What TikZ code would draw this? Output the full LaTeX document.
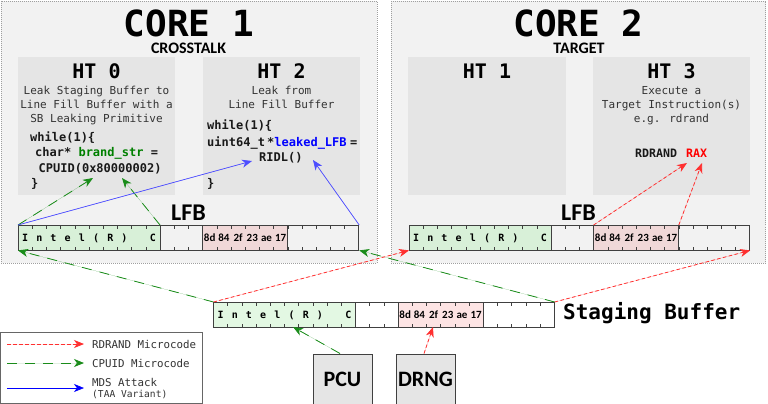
\documentclass[tikz,border=0pt]{standalone}
\usepackage{fontspec}
\newfontfamily\monof{DejaVu Sans Mono}
\newfontfamily\calfont{Carlito}
\usetikzlibrary{arrows.meta}
\definecolor{panelbg}{HTML}{F2F2F2}
\definecolor{htbg}{HTML}{E5E5E5}
\definecolor{gfill}{HTML}{D8F0D8}
\definecolor{pfill}{HTML}{F0D8D8}
\definecolor{gfills}{HTML}{E3F8E3}
\definecolor{pfills}{HTML}{FDE4E4}
\definecolor{rline}{HTML}{FF3030}
\definecolor{gline}{HTML}{1A8C1A}
\definecolor{bline}{HTML}{4D4DFF}
\definecolor{codegreen}{HTML}{008000}
\definecolor{codeblue}{HTML}{0000FF}
\definecolor{edgec}{HTML}{404040}
\definecolor{txt}{HTML}{333333}
\tikzset{
  redarrow/.style={draw=rline, fill=rline, line width=0.8pt, dash pattern=on 3.5pt off 2.5pt, -{Stealth[length=10pt,width=8pt,inset=3pt]}},
  greenarrow/.style={draw=gline, fill=gline, line width=0.8pt, dash pattern=on 10pt off 8pt, -{Stealth[length=10pt,width=8pt,inset=3pt]}},
  bluearrow/.style={draw=bline, fill=bline, line width=0.7pt, -{Stealth[length=10pt,width=8pt,inset=3pt]}},
  panel/.style={draw=gray!75, dash pattern=on 1pt off 1pt, fill=panelbg, line width=0.6pt},
  htbox/.style={fill=htbg},
  bigtitle/.style={inner sep=0, font=\monof\bfseries\fontsize{36}{36}\selectfont},
  subtitle/.style={inner sep=0, font=\calfont\bfseries\fontsize{16}{16}\selectfont},
  httitle/.style={inner sep=0, font=\monof\bfseries\fontsize{20}{20}\selectfont},
  desc/.style={anchor=base, inner sep=0, text=txt, font=\monof\fontsize{11}{11}\selectfont},
  code/.style={anchor=base west, inner sep=0, text=black!90, font=\monof\bfseries\fontsize{12}{12}\selectfont},
  lfblabel/.style={inner sep=0, font=\calfont\bfseries\fontsize{24}{24}\selectfont},
  unitbox/.style={draw=edgec, fill=htbg, line width=0.8pt, minimum width=59pt, minimum height=50pt, inner sep=0, font=\calfont\bfseries\fontsize{22}{22}\selectfont},
  legtext/.style={anchor=base west, inner sep=0, text=txt, font=\monof\fontsize{10.8}{10.8}\selectfont},
  cellch/.style={anchor=base, inner sep=0, font=\monof\bfseries\fontsize{10}{10}\selectfont},
  hexch/.style={anchor=base, inner sep=0, font=\calfont\bfseries\fontsize{11}{11}\selectfont},
}
% buffer: name, x, y, green, pink, white
\newcommand\membuf[6]{%
  \begin{scope}[shift={(#2,#3)}]
    \fill[#6] (0,0) rectangle (340.8,25);
    \fill[#4] (0,0) rectangle (142,25);
    \fill[#5] (184.6,0) rectangle (269.8,25);
    \foreach \i in {1,...,23}{\draw[edgec, line width=0.6pt] (\i*14.2,0) -- ++(0,3.5) (\i*14.2,25) -- ++(0,-3.5);}
    \foreach \i in {10,13,19}{\draw[edgec, line width=0.8pt] (\i*14.2,0) -- (\i*14.2,25);}
    \draw[edgec, line width=0.8pt] (0,0) rectangle (340.8,25);
    \foreach \c [count=\k from 0] in {I,n,t,e,l,{(},R,{)}}{\node[cellch] at (\k*14.2+7.1,16) {\c};}
    \node[cellch] at (9*14.2+7.1,16) {C};
    \foreach \h [count=\k from 13] in {8d,84,2f,23,ae,17}{\node[hexch] at (\k*14.2+7.1,16) {\h};}
    \node[inner sep=0, minimum width=340.8pt, minimum height=25pt, anchor=north west] (#1) at (0,0) {};
  \end{scope}}
\begin{document}
\begin{tikzpicture}[x=1pt,y=-1pt]
\useasboundingbox (0,0) rectangle (768,404);
% panels
\draw[panel] (1,1) rectangle (377,263);
\draw[panel] (391,1) rectangle (765.5,263);
\node[bigtitle] (core1) at (189,23) {CORE 1};
\node[subtitle, anchor=base] (xtalk) at (188.5,53) {CROSSTALK};
\node[bigtitle] (core2) at (578.5,23) {CORE 2};
\node[subtitle, anchor=base] (target) at (579,53) {TARGET};
% HT boxes
\fill[htbox] (18,57) rectangle (175,195);
\fill[htbox] (203,57) rectangle (360,195);
\fill[htbox] (408,57) rectangle (566,195);
\fill[htbox] (593,57) rectangle (750,195);
\node[httitle] (ht0) at (96.5,71.5) {HT 0};
\node[httitle] (ht2) at (281.5,71.5) {HT 2};
\node[httitle] (ht1) at (487,71.5) {HT 1};
\node[httitle] (ht3) at (671.5,71.5) {HT 3};
% HT0 text
\node[desc] (d01) at (96.5,94) {Leak Staging Buffer to};
\node[desc] (d02) at (96.5,108) {Line Fill Buffer with a};
\node[desc] (d03) at (96.5,122) {SB Leaking Primitive};
\node[code] (c01) at (30,141.4) {while(1)\{};
\node[code] (c02) at (35,156.4) {char* \textcolor{codegreen}{brand\_str} =};
\node[code] (cpuid) at (38.5,172.4) {CPUID(0x80000002)};
\node[code] (c04) at (31,187.4) {\}};
% HT2 text
\node[desc] (d21) at (281.5,94) {Leak from};
\node[desc] (d22) at (281.5,108) {Line Fill Buffer};
\node[code] (c21) at (207,129.4) {while(1)\{};
\node[code] (c22) at (207,146) {uint64\_t};
\node[code] (c23) at (267,146) {*\textcolor{codeblue}{leaked\_LFB}};
\node[code] (c24) at (350,146) {=};
\node[code] (ridl) at (259,161.4) {RIDL()};
\node[code] (c26) at (207,187.4) {\}};
% HT3 text
\node[desc] (d31) at (671.5,94) {Execute a};
\node[desc] (d32) at (671.5,108) {Target Instruction(s)};
\node[desc] (d33) at (671.5,122) {e.g. rdrand};
\node[code, font=\monof\bfseries\fontsize{11.6}{11.6}\selectfont] (rdrand) at (635,157.2) {RDRAND};
\node[code, text=red, font=\monof\bfseries\fontsize{11.6}{11.6}\selectfont] (rax) at (686,157.2) {RAX};
% LFB labels
\node[lfblabel] (lfbl1) at (188.5,212.5) {LFB};
\node[lfblabel] (lfbl2) at (578.5,212.5) {LFB};
% buffers
\membuf{lfb1}{18}{225}{gfill}{pfill}{panelbg}
\membuf{lfb2}{409}{225}{gfill}{pfill}{panelbg}
\membuf{sb}{213.5}{302}{gfills}{pfills}{white}
\node[anchor=base west, inner sep=0, font=\monof\bfseries\fontsize{21}{21}\selectfont] (sblabel) at (563,319.5) {Staging Buffer};
% units
\node[unitbox, anchor=north] (pcu) at (342.5,353.5) {PCU};
\node[unitbox, anchor=north] (drng) at (425.5,353.5) {DRNG};
% legend
\draw[edgec!80, fill=white, line width=0.6pt] (0.5,332) rectangle (202,403.5);
\coordinate (lr0) at (7,344); \coordinate (lr1) at (84,344);
\coordinate (lg0) at (7,363); \coordinate (lg1) at (84,363);
\coordinate (lb0) at (7,388); \coordinate (lb1) at (84,388);
\draw[redarrow] (lr0) -- (lr1);
\draw[greenarrow] (lg0) -- (lg1);
\draw[bluearrow, draw=blue, fill=blue] (lb0) -- (lb1);
\node[legtext] (lt1) at (92,348) {RDRAND Microcode};
\node[legtext] (lt2) at (92,367) {CPUID Microcode};
\node[legtext] (lt3) at (92,386.6) {MDS Attack};
\node[legtext, font=\monof\fontsize{9.6}{9.6}\selectfont] (lt4) at (92,397) {(TAA Variant)};
% target coordinates
\coordinate (lfb1g) at (160,225);
\coordinate (lfb2pl) at (593.6,225);
\coordinate (lfb2pr) at (678.8,225);
\coordinate (cpuA) at (93,178);
\coordinate (cpuB) at (122,178);
\coordinate (ridlA) at (252,161);
\coordinate (ridlB) at (313,160);
\coordinate (raxA) at (687,163);
\coordinate (raxB) at (702,163);
\coordinate (sbg) at (293,327);
\coordinate (sbp) at (433,327);
\coordinate (pcut) at (340,353.5);
\coordinate (drngt) at (424,353.5);
% arrows
\draw[greenarrow] (sb.north west) -- (lfb1.south west);
\draw[greenarrow] (sb.north east) -- (lfb1.south east);
\draw[greenarrow] (pcut) -- (sbg);
\draw[greenarrow] (lfb1.north west) -- (cpuA);
\draw[greenarrow] (lfb1g) -- (cpuB);
\draw[redarrow] (sb.north west) -- (lfb2.south west);
\draw[redarrow] (sb.north east) -- (lfb2.south east);
\draw[redarrow] (drngt) -- (sbp);
\draw[redarrow] (lfb2pl) -- (raxA);
\draw[redarrow] (lfb2pr) -- (raxB);
\draw[bluearrow] (lfb1.north west) -- (ridlA);
\draw[bluearrow] (lfb1.north east) -- (ridlB);
\end{tikzpicture}
\end{document}
